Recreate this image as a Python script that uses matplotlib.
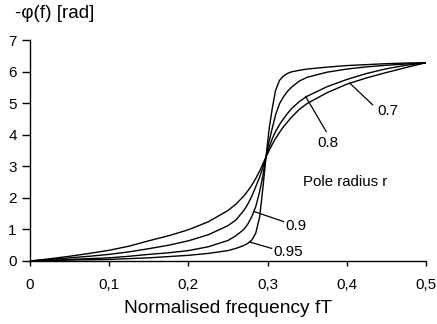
import matplotlib
matplotlib.use("Agg")
import matplotlib.pyplot as plt

plt.rcParams['font.family'] = ['Liberation Sans', 'DejaVu Sans']

# Normalised frequency samples
freq = [0, 0.025, 0.05, 0.075, 0.1, 0.125, 0.15, 0.175, 0.2, 0.225, 0.25,
        0.26, 0.27, 0.275, 0.28, 0.285, 0.29, 0.294, 0.298, 0.302, 0.306,
        0.31, 0.315, 0.32, 0.325, 0.33, 0.34, 0.35, 0.375, 0.4, 0.425,
        0.45, 0.475, 0.5]

# Negative phase response [rad] for each pole radius
phase_r07 = [0, 0.07, 0.15, 0.24, 0.34, 0.47, 0.64, 0.8, 0.99, 1.24, 1.6,
             1.8, 2.06, 2.22, 2.4, 2.61, 2.85, 3.07, 3.3, 3.5, 3.7,
             3.88, 4.07, 4.25, 4.4, 4.55, 4.8, 4.99, 5.33, 5.6, 5.8,
             5.97, 6.13, 6.28]
phase_r08 = [0, 0.05, 0.1, 0.15, 0.21, 0.29, 0.39, 0.5, 0.64, 0.83, 1.12,
             1.3, 1.6, 1.8, 2.05, 2.35, 2.66, 2.96, 3.3, 3.6, 3.88,
             4.1, 4.32, 4.5, 4.67, 4.82, 5.05, 5.22, 5.52, 5.75, 5.94,
             6.09, 6.2, 6.28]
phase_r09 = [0, 0.025, 0.05, 0.075, 0.1, 0.15, 0.21, 0.26, 0.33, 0.45, 0.65,
             0.8, 1.0, 1.17, 1.4, 1.72, 2.2, 2.7, 3.3, 3.8, 4.22,
             4.62, 4.98, 5.2, 5.37, 5.5, 5.7, 5.82, 5.98, 6.08, 6.15,
             6.2, 6.24, 6.28]
phase_r095 = [0, 0.015, 0.03, 0.04, 0.05, 0.075, 0.1, 0.14, 0.18, 0.24, 0.33,
              0.4, 0.49, 0.56, 0.66, 0.88, 1.4, 2.3, 3.3, 4.2, 4.85,
              5.4, 5.72, 5.86, 5.94, 5.99, 6.04, 6.08, 6.14, 6.19, 6.22,
              6.25, 6.27, 6.28]

x_ticks = [0, 0.1, 0.2, 0.3, 0.4, 0.5]
x_tick_labels = ["0", "0,1", "0,2", "0,3", "0,4", "0,5"]
y_ticks = [0, 1, 2, 3, 4, 5, 6, 7]

fig = plt.figure(figsize=(4.37, 3.24), dpi=100)
ax = fig.add_axes([30 / 437, 63 / 324, 396 / 437, 221 / 324])

for series in (phase_r07, phase_r08, phase_r09, phase_r095):
    ax.plot(freq, series, color="black", lw=1.0, solid_joinstyle="round")

ax.set_xlim(0, 0.5)
ax.set_ylim(0, 7)
ax.set_xticks(x_ticks)
ax.set_xticklabels(x_tick_labels)
ax.set_yticks(y_ticks)
for side in ("top", "right"):
    ax.spines[side].set_visible(False)
for side in ("left", "bottom"):
    ax.spines[side].set_linewidth(1.0)
ax.tick_params(axis="both", direction="out", width=1.0,
               labelsize=11, colors="black")
ax.tick_params(axis="x", length=3.4, pad=9)
ax.tick_params(axis="y", length=5.5, pad=4)

ax.set_xlabel("Normalised frequency fT", fontsize=13.8, labelpad=5.5)
fig.text(15 / 437, 1 - 13 / 324, "-\u03c6(f) [rad]", fontsize=13.6,
         ha="left", va="center")

# Curve labels with leader lines
def leader(x0, y0, x1, y1):
    ax.plot([x0, x1], [y0, y1], color="black", lw=0.9)

leader(0.4035, 5.64, 0.4325, 4.95)
ax.text(0.439, 4.74, "0.7", fontsize=11, ha="left", va="center")
leader(0.348, 5.21, 0.374, 4.1)
ax.text(0.376, 3.75, "0.8", fontsize=11, ha="center", va="center")
ax.text(0.345, 2.5, "Pole radius r", fontsize=10.8, ha="left", va="center")
leader(0.2825, 1.57, 0.320, 1.25)
ax.text(0.322, 1.12, "0.9", fontsize=11, ha="left", va="center")
leader(0.2775, 0.6, 0.305, 0.4)
ax.text(0.307, 0.3, "0.95", fontsize=11, ha="left", va="center")

fig.savefig("out.png", dpi=100)
